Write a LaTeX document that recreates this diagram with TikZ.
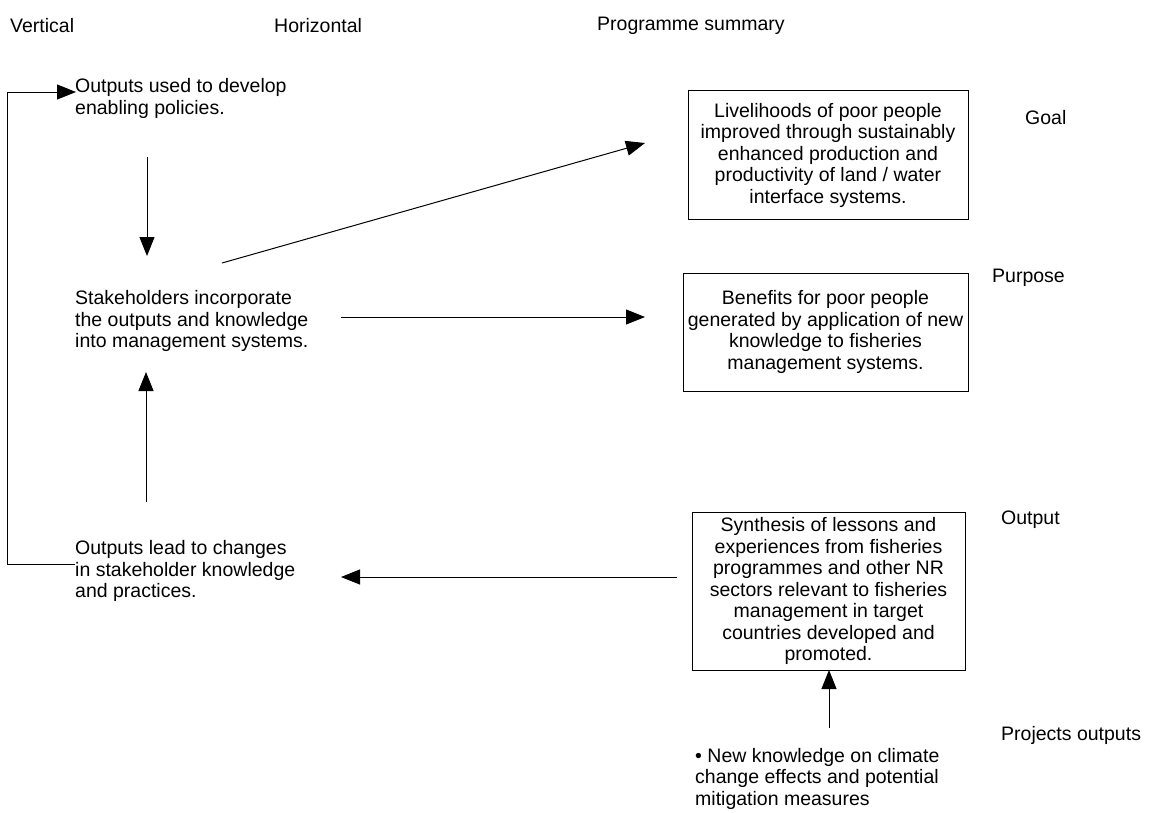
\documentclass[tikz,border=0pt]{standalone}
\usepackage{fontspec}
\setmainfont{Liberation Sans}
\usetikzlibrary{arrows.meta}
\tikzset{
    txt/.style={inner sep=0pt, align=left, font=\fontsize{19.5}{21.5}\selectfont},
    summary/.style={draw, line width=1pt, inner sep=0pt, align=center, font=\fontsize{19.5}{21.5}\selectfont},
    link/.style={line width=1pt, -{Triangle[length=19pt,width=15pt]}}
}

\begin{document}
\begin{tikzpicture}[x=1pt,y=-1pt]
		\useasboundingbox (0,0) rectangle (1151,812);
		% column headings
		\node[txt,anchor=west] (vert) at (10,26) {Vertical};
		\node[txt,anchor=west] (horiz) at (274,26) {Horizontal};
		\node[txt,anchor=west] (prog) at (597,26) {Programme summary};
		% left hand chain
		\node[txt,anchor=west] (used) at (75,98.5) {Outputs used to develop\\enabling policies.};
		\node[txt,anchor=west] (stake) at (75,321) {Stakeholders incorporate\\the outputs and knowledge\\into management systems.};
		\node[txt,anchor=west] (lead) at (75,571) {Outputs lead to changes\\in stakeholder knowledge\\and practices.};
		% programme summary boxes
		\node[summary,minimum width=280pt,minimum height=129pt] (goal) at (828,155) {Livelihoods of poor people\\improved through sustainably\\enhanced production and\\productivity of land / water\\interface systems.};
		\node[summary,minimum width=285pt,minimum height=118pt] (purpose) at (825.5,332) {Benefits for poor people\\generated by application of new\\knowledge to fisheries\\management systems.};
		\node[summary,minimum width=273pt,minimum height=158pt] (output) at (828.5,591) {Synthesis of lessons and\\experiences from fisheries\\programmes and other NR\\sectors relevant to fisheries\\management in target\\countries developed and\\promoted.};
		\node[txt,anchor=west] (proj) at (695,778.5) {\textbullet\ New knowledge on climate\\change effects and potential\\mitigation measures};
		% level labels
		\node[txt,anchor=west] (goallbl) at (1025,118) {Goal};
		\node[txt,anchor=west] (purplbl) at (992,278) {Purpose};
		\node[txt,anchor=west] (outlbl) at (1001,520) {Output};
		\node[txt,anchor=west] (projlbl) at (1001,735) {Projects outputs};
		% connector ends
		\coordinate (downs) at (147,157);
		\coordinate (downe) at (147,256);
		\coordinate (ups) at (146,502);
		\coordinate (upe) at (146,372);
		\coordinate (diags) at (222,263);
		\coordinate (diage) at (645,143);
		\coordinate (hors) at (341,317);
		\coordinate (hore) at (645,317);
		\coordinate (backs) at (677,577);
		\coordinate (backe) at (341,577);
		\coordinate (projs) at (829,728);
		\coordinate (projt) at (829,670);
		\coordinate (loopbot) at (75,564);
		\coordinate (looptop) at (76,92);
		% arrows
		\draw[link] (downs) -- (downe);
		\draw[link] (ups) -- (upe);
		\draw[link] (diags) -- (diage);
		\draw[link] (hors) -- (hore);
		\draw[link] (backs) -- (backe);
		\draw[link] (projs) -- (projt);
		\draw[link] (loopbot) -- ++(-68,0) |- (looptop);
	\end{tikzpicture}
\end{document}
